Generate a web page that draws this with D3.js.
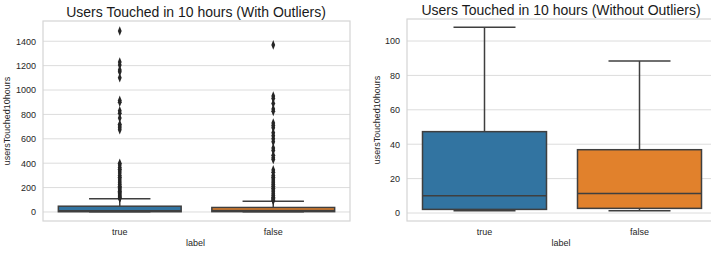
<!DOCTYPE html>
<html>
<head>
<meta charset="utf-8">
<script src="https://cdn.jsdelivr.net/npm/d3@7"></script>
<style>
  body { margin: 0; background: #fff; }
  text { font-family: "Liberation Sans", Arial, sans-serif; }
</style>
</head>
<body>
<div id="wrapper"></div>
<script>
// Box statistics per label
var categories = ["true", "false"];
var colors = ["#3274a1", "#e1812c"];
var q1 = [2.1, 2.7];
var median = [10, 11.4];
var q3 = [47.3, 36.8];
var whiskerLow = [1.3, 1.3];
var whiskerHigh = [108, 88.4];

// Outliers (only in the left chart)
var outliersTrue = [1484, 1230, 1205, 1165, 1150, 1100, 915, 900, 830, 810, 770, 720, 705, 690, 675,
  400, 385, 365, 350, 335, 320, 300, 285, 270, 255, 240, 225, 210, 200, 190, 180, 170, 160, 150, 140, 130, 122, 115, 112];
var outliersFalse = [1370, 950, 930, 890, 845, 825, 730, 710, 690, 650, 625, 600, 575, 525, 505, 465, 445, 430,
  345, 325, 300, 285, 270, 255, 240, 225, 210, 195, 180, 165, 150, 135, 120, 110, 100, 95];

var ticksLeft = [0, 200, 400, 600, 800, 1000, 1200, 1400];
var ticksRight = [0, 20, 40, 60, 80, 100];

var svg = d3.select("#wrapper")
  .append("svg")
  .attr("width", 711)
  .attr("height", 254)

function drawPanel(p) {
  var g = svg.append("g")

  var x = d3.scaleBand()
    .domain(categories)
    .range([p.left, p.right])

  var y = d3.scaleLinear()
    .domain(p.domain)
    .range([p.bottom, p.top])

  // gridlines
  g.append("g")
    .selectAll("line")
    .data(p.ticks)
    .enter()
    .append("line")
    .attr("x1", p.left)
    .attr("x2", p.right)
    .attr("y1", d => y(d))
    .attr("y2", d => y(d))
    .attr("stroke", "#dcdcdc")
    .attr("stroke-width", 1)

  // frame
  g.append("rect")
    .attr("x", p.left)
    .attr("y", p.top)
    .attr("width", p.right - p.left)
    .attr("height", p.bottom - p.top)
    .attr("fill", "none")
    .attr("stroke", "#d4d4d4")
    .attr("stroke-width", 1.2)

  // y axis (labels only)
  var yAxis = g.append("g")
    .attr("transform", "translate(" + p.left + ",0)")
    .call(d3.axisLeft(y).tickValues(p.ticks).tickFormat(d3.format("d")).tickSize(0).tickPadding(7))
  yAxis.select(".domain").remove()
  yAxis.selectAll("text")
    .attr("fill", "#262626")
    .style("font-size", "9px")

  // x axis
  var xAxis = g.append("g")
    .attr("transform", "translate(0," + p.bottom + ")")
    .call(d3.axisBottom(x).tickSize(0).tickPadding(8))
  xAxis.select(".domain").remove()
  xAxis.selectAll("text")
    .attr("fill", "#262626")
    .style("font-size", "9px")

  // axis titles
  g.append("text")
    .attr("x", (p.left + p.right) / 2 - 1)
    .attr("y", p.bottom + 25)
    .attr("fill", "#262626")
    .style("font-size", "9px")
    .style("text-anchor", "middle")
    .text("label")

  g.append("text")
    .attr("transform", "translate(" + p.ylabelX + "," + ((p.top + p.bottom) / 2) + ") rotate(-90)")
    .attr("fill", "#262626")
    .style("font-size", "9px")
    .style("text-anchor", "middle")
    .text("usersTouched10hours")

  g.append("text")
    .attr("x", p.titleX)
    .attr("y", p.titleY)
    .attr("fill", "#1a1a1a")
    .style("font-size", "14px")
    .style("text-anchor", "middle")
    .text(p.title)

  var bw = x.bandwidth() * 0.8
  var boxes = g.append("g")
    .selectAll("g")
    .data(categories)
    .enter()
    .append("g")

  var cx = d => x(d) + x.bandwidth() / 2
  var lineColor = "#3f3f3f"

  // whiskers
  boxes.append("line")
    .attr("x1", cx).attr("x2", cx)
    .attr("y1", (d, i) => y(q3[i]))
    .attr("y2", (d, i) => y(whiskerHigh[i]))
    .attr("stroke", lineColor).attr("stroke-width", 1.5)
  boxes.append("line")
    .attr("x1", cx).attr("x2", cx)
    .attr("y1", (d, i) => y(q1[i]))
    .attr("y2", (d, i) => y(whiskerLow[i]))
    .attr("stroke", lineColor).attr("stroke-width", 1.5)
  boxes.append("line")
    .attr("x1", d => cx(d) - bw / 4).attr("x2", d => cx(d) + bw / 4)
    .attr("y1", (d, i) => y(whiskerHigh[i]))
    .attr("y2", (d, i) => y(whiskerHigh[i]))
    .attr("stroke", lineColor).attr("stroke-width", 1.5)
  boxes.append("line")
    .attr("x1", d => cx(d) - bw / 4).attr("x2", d => cx(d) + bw / 4)
    .attr("y1", (d, i) => y(whiskerLow[i]))
    .attr("y2", (d, i) => y(whiskerLow[i]))
    .attr("stroke", lineColor).attr("stroke-width", 1.5)

  // boxes
  boxes.append("rect")
    .attr("x", d => cx(d) - bw / 2)
    .attr("width", bw)
    .attr("y", (d, i) => y(q3[i]))
    .attr("height", (d, i) => Math.max(1, y(q1[i]) - y(q3[i])))
    .attr("fill", (d, i) => colors[i])
    .attr("stroke", lineColor)
    .attr("stroke-width", 1.5)

  // medians
  boxes.append("line")
    .attr("x1", d => cx(d) - bw / 2).attr("x2", d => cx(d) + bw / 2)
    .attr("y1", (d, i) => y(median[i]))
    .attr("y2", (d, i) => y(median[i]))
    .attr("stroke", lineColor).attr("stroke-width", 1.5)

  // outliers
  if (p.fliers) {
    var diamond = d3.symbol().type(d3.symbolDiamond).size(20)
    var pts = []
    outliersTrue.forEach(v => pts.push({ c: "true", v: v }))
    outliersFalse.forEach(v => pts.push({ c: "false", v: v }))
    g.append("g")
      .selectAll("path")
      .data(pts)
      .enter()
      .append("path")
      .attr("d", diamond)
      .attr("transform", d => "translate(" + cx(d.c) + "," + y(d.v) + ") scale(0.8,1.15)")
      .attr("fill", "#262626")
  }
}

drawPanel({
  left: 43, right: 350, top: 21, bottom: 221,
  domain: [-74, 1566], ticks: ticksLeft, fliers: true,
  ylabelX: 10, title: "Users Touched in 10 hours (With Outliers)", titleX: 196, titleY: 17
})

drawPanel({
  left: 407, right: 717, top: 19, bottom: 221,
  domain: [-4.65, 112.8], ticks: ticksRight, fliers: false,
  ylabelX: 380, title: "Users Touched in 10 hours (Without Outliers)", titleX: 561, titleY: 15
})
</script>
</body>
</html>
